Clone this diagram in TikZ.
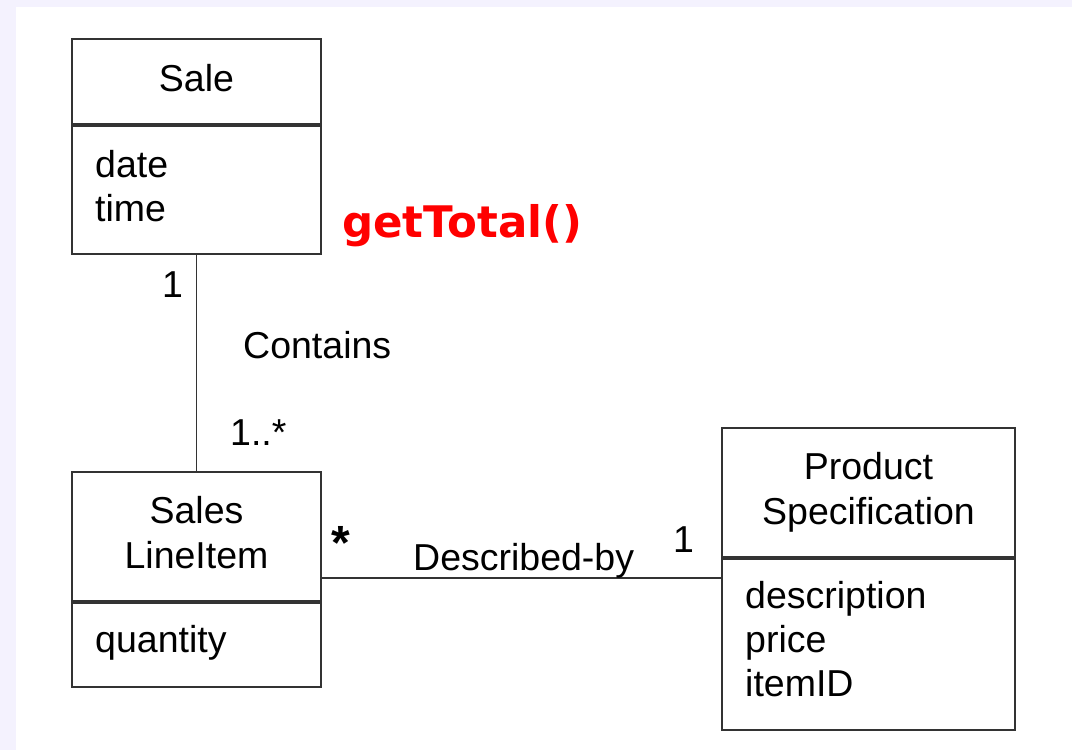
\documentclass[tikz,border=0pt]{standalone}
\usepackage{fontspec}
\setmainfont{Liberation Sans}
\newfontfamily\callFont{DejaVu Sans}
\usepackage{xcolor}
\usepackage{tikz}
\definecolor{pageBack}{HTML}{F4F2FE}
\definecolor{lineGray}{HTML}{333333}
\definecolor{callRed}{HTML}{FF0000}
\newcommand{\umlFont}{\fontsize{37.5}{45}\selectfont}
\newcommand{\lineSkip}{44}
\newcommand{\saleAttributes}{0/date, 1/time}
\newcommand{\lineAttributes}{0/quantity}
\newcommand{\specAttributes}{0/description, 1/price, 2/itemID}

\begin{document}
\begin{tikzpicture}[x=1pt, y=-1pt,
		umlpart/.style={draw=lineGray, line width=2.2pt, inner sep=0pt, font=\umlFont},
		umlhead/.style={umlpart, align=center, text depth=8pt},
		attrtext/.style={anchor=base west, inner sep=0pt, font=\umlFont},
		multext/.style={anchor=base west, inner sep=0pt, font=\umlFont},
		assoc/.style={draw=lineGray, line width=1.9pt}]
	
	\useasboundingbox (0,0) rectangle (1072,750);
	\fill[pageBack] (0,0) rectangle (1072,750);
	\fill[white] (16,7) rectangle (1072,750);
	
	% classes
	\node[umlhead, minimum width=249, minimum height=85] (saleHead) at (196.5,81.5) {Sale};
	\node[umlpart, minimum width=249, minimum height=128, anchor=north] (saleBody) at (saleHead.south) {};
	
	\node[umlhead, minimum width=249, minimum height=129] (lineHead) at (196.5,536.5) {Sales\\LineItem};
	\node[umlpart, minimum width=249, minimum height=84, anchor=north] (lineBody) at (lineHead.south) {};
	
	\node[umlhead, minimum width=293, minimum height=129] (specHead) at (868.5,492.5) {Product\\Specification};
	\node[umlpart, minimum width=293, minimum height=171, anchor=north] (specBody) at (specHead.south) {};
	
	% attributes
	\foreach \row/\attr in \saleAttributes
	{
		\node[attrtext] (saleAttr\row) at (95,{177+\row*\lineSkip}) {\attr};
	}
	\foreach \row/\attr in \lineAttributes
	{
		\node[attrtext] (lineAttr\row) at (95,{652+\row*\lineSkip}) {\attr};
	}
	\foreach \row/\attr in \specAttributes
	{
		\node[attrtext] (specAttr\row) at (745,{608+\row*\lineSkip}) {\attr};
	}
	
	% associations
	\draw[assoc] (saleBody.south) -- (lineHead.north);
	\coordinate (descStart) at ([yshift=-41.5pt]lineHead.east);
	\draw[assoc] (descStart) -- (descStart -| specBody.west);
	
	\node[multext] (saleOne) at (162,297) {1};
	\node[multext] (containsName) at (243,358) {Contains};
	\node[multext] (lineMany) at (230,445) {1..*};
	\node[anchor=base, inner sep=0pt, font=\bfseries\fontsize{48}{50}\selectfont] (lineStar) at (341,559) {*};
	\node[multext] (describedName) at (413,570) {Described-by};
	\node[multext] (specOne) at (673,552) {1};
	
	\node[anchor=base west, inner sep=0pt, text=callRed, font=\callFont\bfseries\fontsize{43.5}{50}\selectfont] (totalCall) at (342,237) {getTotal()};
\end{tikzpicture}
\end{document}
